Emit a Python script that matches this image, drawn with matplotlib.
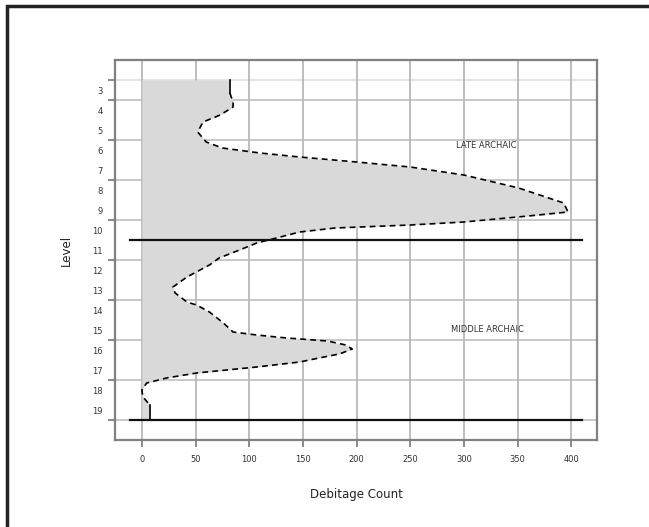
import matplotlib
matplotlib.use("Agg")
import matplotlib.pyplot as plt
from matplotlib.patches import Rectangle

# ---- data ----
levels = [2.5, 3.15, 3.6, 3.85, 4.25, 4.6, 5.1, 5.6, 5.9, 6.15, 6.35, 6.6, 6.85,
          7.25, 7.9, 8.65, 9.1, 9.3, 9.45, 9.6, 9.75, 9.9, 10.1, 10.35, 10.65,
          11.0, 11.4, 11.75, 12.35, 12.85, 13.15, 13.6, 13.75, 14.1, 14.65, 15.1,
          15.25, 15.4, 15.55, 15.75, 15.95, 16.2, 16.4, 16.6, 16.85, 17.0, 17.15,
          17.4, 17.65, 18.0, 18.35, 18.75, 19.5]
counts = [82, 82, 85, 85, 73, 57, 52, 60, 75, 110, 147, 200, 250,
          300, 351, 393, 397, 360, 330, 300, 250, 180, 147, 129, 107,
          91, 72, 63, 42, 29, 31, 42, 51, 63, 76, 85,
          107, 135, 173, 190, 196, 184, 165, 147, 107, 79, 51,
          23, 4.5, 0, 1, 7.5, 7.5]
level_ticks = list(range(3, 20))
x_ticks = [0, 50, 100, 150, 200, 250, 300, 350, 400]
boundary_levels = [10.5, 19.5]
boundary_x = [-11, 410]
period_labels = ["LATE ARCHAIC", "MIDDLE ARCHAIC"]
period_x = [321, 322]
period_level = [5.75, 15.0]

fig = plt.figure(figsize=(6.49, 5.27), dpi=100)
ax = fig.add_axes([115/649, 1-440/527, (597-115)/649, (440-60)/527])

ax.set_xlim(-25, 424)
ax.set_ylim(20.5, 1.5)

# grid
grid_levels = [2.5, 3.5, 5.5, 7.5, 9.5, 11.5, 13.5, 15.5, 17.5, 19.5]
for gl in grid_levels:
    ax.axhline(gl, color="#c4c4c4" if gl != 2.5 else "#e2e2e2", lw=1.3, zorder=0)
for xt in x_ticks:
    ax.axvline(xt, color="#b8b8b8", lw=1.3, zorder=0)

# fill and curve
ax.fill_betweenx(levels, 0, counts, color="#d9d9d9", lw=0, zorder=1)
ax.plot(counts[1:-1], levels[1:-1], color="black", lw=1.2,
        linestyle=(0, (3.5, 2.5)), zorder=3)
ax.plot(counts[:2], levels[:2], color="black", lw=1.2, zorder=3)
ax.plot(counts[-2:], levels[-2:], color="black", lw=1.2, zorder=3)

# boundary lines
for bl in boundary_levels:
    ax.plot(boundary_x, [bl, bl], color="#111111", lw=1.6, zorder=4)

for lab, xx, yy in zip(period_labels, period_x, period_level):
    ax.text(xx, yy, lab, fontsize=6, color="#333333", ha="center", va="center", zorder=5)

# ticks
ax.set_xticks(x_ticks)
ax.set_xticklabels([str(v) for v in x_ticks], fontsize=6, color="#333333")
ax.set_yticks(grid_levels)
ax.set_yticklabels([])
ax.set_yticks(level_ticks, minor=True)
ax.set_yticklabels([str(v) for v in level_ticks], minor=True, fontsize=6, color="#333333")
ax.tick_params(axis="y", which="minor", length=0, pad=9)
ax.tick_params(axis="y", which="major", length=5, width=1.2, color="#777777")
ax.tick_params(axis="x", length=5, width=1.2, color="#777777", pad=6)

for s in ax.spines.values():
    s.set_color("#808080")
    s.set_linewidth(1.6)

ax.set_xlabel("Debitage Count", fontsize=8.5, labelpad=17, color="#222222")
ax.set_ylabel("Level", fontsize=8.5, labelpad=14, color="#222222")

# outer border (cropped at right/bottom)
fig.patches.append(Rectangle((7/649, -0.2), 1.2, 1.2 - 6/527 + 0.0, transform=fig.transFigure,
                             fill=False, edgecolor="#222222", lw=2.5, clip_on=False))

fig.savefig("out.png", dpi=100)
